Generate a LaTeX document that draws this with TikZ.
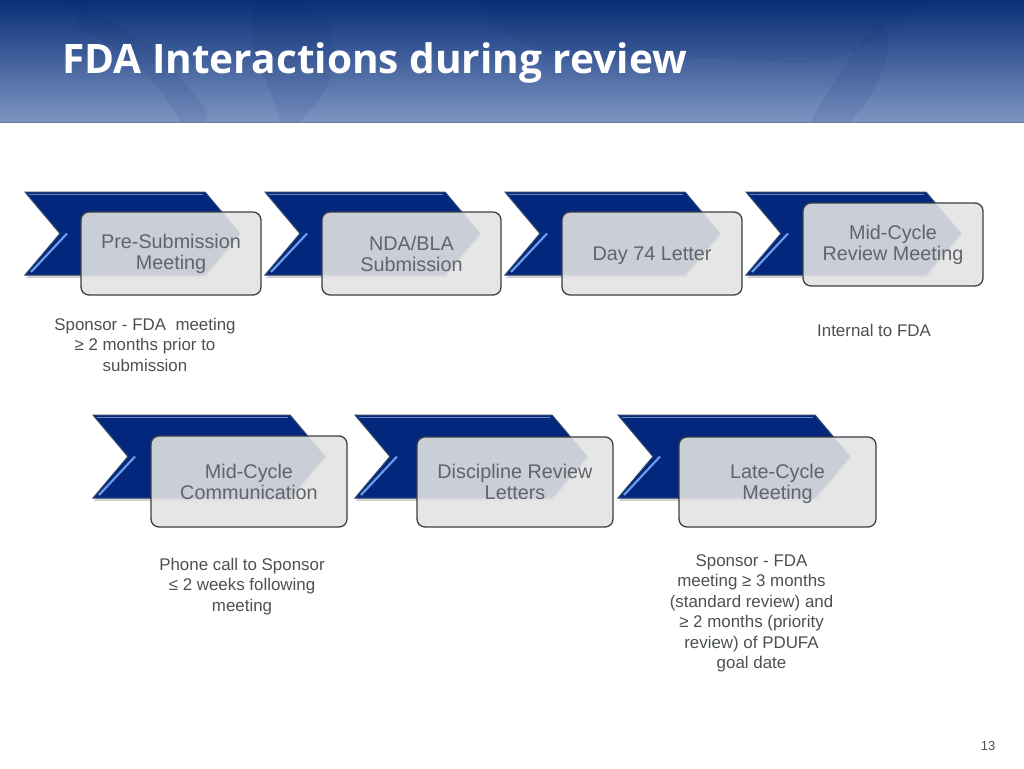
\documentclass[tikz,border=0pt]{standalone}
\usepackage{fontspec}
\setmainfont{Liberation Sans}
\newfontfamily\titlefont{Open Sans}
\usetikzlibrary{calc}
\definecolor{chevblue}{HTML}{03277C}
\definecolor{chevedge}{HTML}{2F4A6E}
\definecolor{chevglint}{HTML}{6C9BE8}
\definecolor{boxfill}{HTML}{E3E3E3}
\definecolor{boxedge}{HTML}{3A3F42}
\definecolor{boxtext}{HTML}{5F6569}
\definecolor{notetext}{HTML}{4A5054}
\definecolor{mapdark}{HTML}{0A2A68}
\definecolor{headtop}{HTML}{0A2E78}
\definecolor{headmid}{HTML}{2C5090}
\definecolor{headlow}{HTML}{7D95C2}
\tikzset{slide/.style={
  x=1pt,
  y=-1pt
}}
\tikzset{stepbox/.style={
  draw=boxedge,
  line width=1.3pt,
  fill=boxfill,
  fill opacity=0.89,
  text opacity=1,
  shape=rectangle,
  rounded corners=8pt,
  align=center,
  inner sep=0pt,
  text=boxtext,
  font=\fontsize{19.8}{21}\selectfont,
}}
\tikzset{note/.style={
  align=center,
  inner sep=0pt,
  text=notetext,
  font=\fontsize{16.9}{20.5}\selectfont,
}}
\tikzset{land/.style={
  fill=mapdark,
  opacity=0.09
}}
% #1 left edge, #2 top edge, #3 length of the flat part
\newcommand{\chevron}[3]{
  \fill[black,opacity=0.18] (#1+1,#2+2) -- ++(#3,0) -- ++(35,42) -- ++(-35,42)
    -- ++(-#3,0) -- ++(35,-42) -- cycle;
  \draw[chevedge,line width=1pt,fill=chevblue] (#1,#2) -- ++(#3,0) -- ++(35,41.5) -- ++(-35,41.5)
    -- ++(-#3,0) -- ++(35,-41.5) -- cycle;
  \draw[white!45!chevblue,line width=1pt] (#1+4,#2+2.5) -- ++(#3-6,0);
  \draw[chevglint,line width=2.2pt] (#1+42,#2+41.5) -- (#1+6,#2+80);
}

\begin{document}
\begin{tikzpicture}[slide]
    \useasboundingbox (0,0) rectangle (1024,768);

    %% Header band

    \fill[top color=headtop,middle color=headmid,bottom color=headlow]
      (0,0) rectangle (1024,122);
    \begin{scope}
      \clip (0,0) rectangle (1024,122);
      \fill[land] (70,0) .. controls (110,20) and (150,40) .. (175,70)
        .. controls (195,100) and (215,110) .. (205,122)
        -- (180,122) .. controls (165,90) and (130,50) .. (80,30) -- cycle;
      \fill[land] (255,5) .. controls (290,0) and (340,10) .. (330,40)
        .. controls (345,70) and (320,100) .. (300,122)
        -- (280,122) .. controls (270,80) and (240,40) .. (255,5) -- cycle;
      \fill[land] (480,0) -- (930,0) .. controls (900,30) and (860,50) .. (830,60)
        .. controls (790,70) and (700,50) .. (640,60)
        .. controls (560,70) and (490,40) .. (480,0) -- cycle;
      \fill[land] (880,20) .. controls (900,40) and (880,90) .. (850,122)
        -- (810,122) .. controls (830,90) and (850,50) .. (880,20) -- cycle;
    \end{scope}
    \draw[chevedge!70!white,line width=1pt] (0,122.5) -- (1024,122.5);
    \node[inner sep=0pt,text=white,anchor=base west] (title) at (62,74)
      {\titlefont\bfseries\fontsize{40.6}{46}\selectfont FDA Interactions during review};

    %% Upper row

    \chevron{25}{192}{180}
    \chevron{265}{192}{180}
    \chevron{505}{192}{180}
    \chevron{746}{192}{180}
    \node[stepbox,minimum width=180pt,minimum height=83pt] (presub) at (171,253.5)
      {Pre-Submission\\Meeting};
    \node[stepbox,minimum width=179pt,minimum height=83pt] (ndabla) at (411.5,253.5)
      {NDA/BLA\\Submission};
    \node[stepbox,minimum width=180pt,minimum height=83pt] (day74) at (652,253.5)
      {\raisebox{0pt}[\height][0pt]{Day 74 Letter}};
    \node[stepbox,minimum width=180pt,minimum height=83pt] (midreview) at (893,244.5)
      {Mid-Cycle\\Review Meeting};

    % Notes
    \node[note] (presubnote) at (145,344.8)
      {Sponsor - FDA~ meeting\\≥ 2 months prior to\\submission};
    \node[note] (midreviewnote) at (874,330) {Internal to FDA};

    %% Lower row

    \chevron{93}{415}{197}
    \chevron{355}{415}{197}
    \chevron{618}{415}{197}
    \node[stepbox,minimum width=196pt,minimum height=91pt] (midcomm) at (249,481.5)
      {Mid-Cycle\\Communication};
    \node[stepbox,minimum width=196pt,minimum height=90pt] (letters) at (515,482)
      {Discipline Review\\Letters};
    \node[stepbox,minimum width=197pt,minimum height=90pt] (latecycle) at (777.5,482)
      {Late-Cycle\\\smash{Meeting}};

    % Notes
    \node[note] (midcommnote) at (242,586.5)
      {Phone call to Sponsor\\≤ 2 weeks following\\meeting};
    \node[note] (latecyclenote) at (751.5,613.5)
      {Sponsor - FDA\\meeting ≥ 3 months\\(standard review) and\\≥ 2 months (priority\\review) of PDUFA\\goal date};

    \node[inner sep=0pt,text=notetext,font=\fontsize{13}{15}\selectfont] (pagenum) at (988,746) {13};

  \end{tikzpicture}
\end{document}
